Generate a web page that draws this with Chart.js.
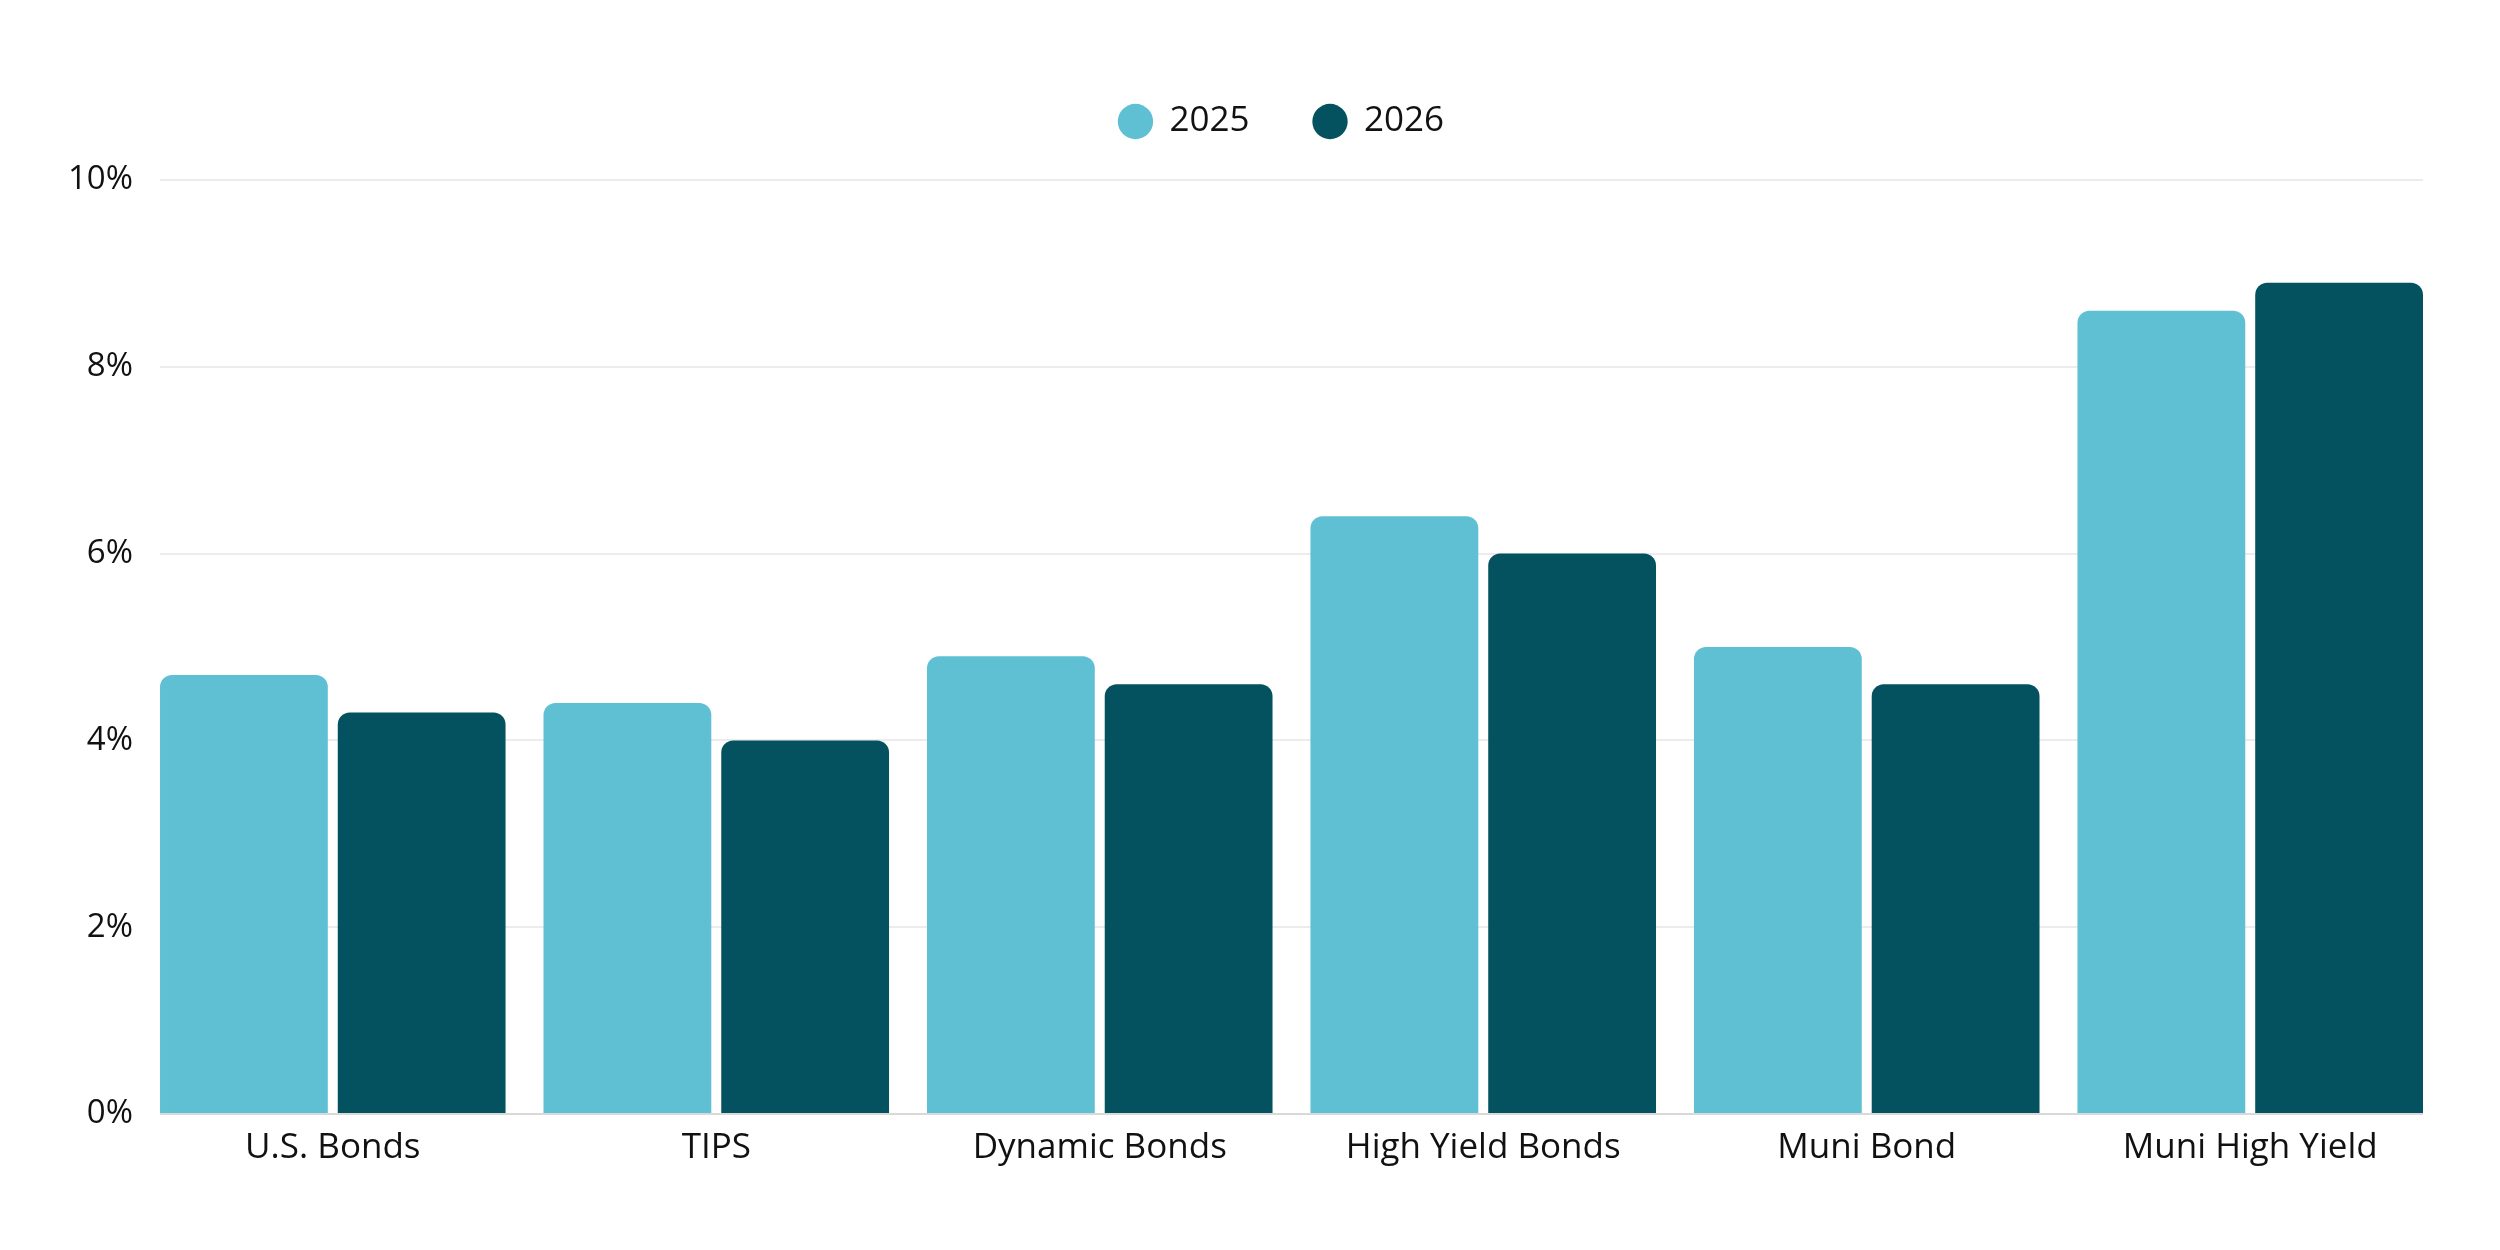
<!DOCTYPE html>
<html>
<head>
<meta charset="utf-8">
<script src="https://cdn.jsdelivr.net/npm/chart.js@4.4.1/dist/chart.umd.min.js"></script>
<style>
  html, body { margin: 0; padding: 0; background: #fff; }
  #wrap { width: 2500px; height: 1250px; }
</style>
</head>
<body>
<div id="wrap"><canvas id="yieldChart" width="2500" height="1250"></canvas></div>
<script>
// ----------------- DATA -----------------
var categories = ["U.S. Bonds", "TIPS", "Dynamic Bonds", "High Yield Bonds", "Muni Bond", "Muni High Yield"];
var seriesNames = ["2025", "2026"];
var values2025 = [4.7, 4.4, 4.9, 6.4, 5.0, 8.6];
var values2026 = [4.3, 4.0, 4.6, 6.0, 4.6, 8.9];
var yTicks = [0, 2, 4, 6, 8, 10];

var LIGHT = '#5fc0d3';
var DARK = '#04525f';
var FONT = "'Open Sans', Lato, sans-serif";
var LEGEND_GAP = 31;    // extra space under the legend
var LEGEND_NUDGE = -10; // legend sits a bit left of the plot centre
var CAT_PCT = 0.927;
var BAR_PCT = 0.944;

Chart.defaults.font.family = FONT;
Chart.defaults.color = '#111';

function makeBars(label, data, color){
    return {
        label: label,
        data: data,
        backgroundColor: color,
        borderRadius: { topLeft: 12, topRight: 12, bottomLeft: 0, bottomRight: 0 },
        borderSkipped: false,
        categoryPercentage: CAT_PCT,
        barPercentage: BAR_PCT
    };
}

// legend spacing + make the outer bars touch the ends of the grid lines
var layoutTweaks = {
    id: 'layoutTweaks',
    beforeInit: function(chart){
        var origFit = chart.legend.fit;
        chart.legend.fit = function(){
            origFit.bind(chart.legend)();
            this.height += LEGEND_GAP;
        };
    },
    afterLayout: function(chart){
        // widen the category scale so the empty margin at each end disappears
        var x = chart.scales.x;
        var n = chart.data.labels.length;
        var k = (1 - CAT_PCT) / 2 + CAT_PCT * (1 - BAR_PCT) / 4;
        var w = (x.right - x.left) / (n - 2 * k);
        var d = k * w;
        x.left -= d;
        x.right += d;
        x.width = x.right - x.left;
        x.configure();

        var lg = chart.legend, ca = chart.chartArea;
        var shift = (ca.left + ca.right) / 2 - (lg.left + lg.right) / 2 + LEGEND_NUDGE;
        lg.left += shift;
        lg.right += shift;
    }
};

var chart = new Chart(document.getElementById('yieldChart'), {
    type: 'bar',
    data: {
        labels: categories,
        datasets: [
            makeBars(seriesNames[0], values2025, LIGHT),
            makeBars(seriesNames[1], values2026, DARK)
        ]
    },
    plugins: [layoutTweaks],
    options: {
        responsive: false,
        devicePixelRatio: 1,
        animation: false,
        layout: { padding: { top: 40, left: 41, right: 77, bottom: 68 } },
        plugins: {
            tooltip: { enabled: false },
            legend: {
                position: 'top',
                labels: {
                    usePointStyle: true,
                    pointStyle: 'circle',
                    boxWidth: 33,
                    boxHeight: 25,
                    padding: 64,
                    color: '#111',
                    font: { size: 35, family: FONT }
                }
            }
        },
        scales: {
            x: {
                grid: { display: false, drawTicks: false },
                border: { display: false },
                ticks: { padding: 13, font: { size: 35 }, color: '#111' }
            },
            y: {
                min: yTicks[0],
                max: yTicks[yTicks.length - 1],
                afterBuildTicks: function(axis){
                    axis.ticks = yTicks.map(function(v){ return { value: v }; });
                },
                grid: {
                    color: function(c){ return c.tick && c.tick.value === 0 ? '#d9d9d9' : '#ececec'; },
                    lineWidth: 2,
                    drawTicks: false
                },
                border: { display: false },
                ticks: {
                    padding: 27,
                    font: { size: 33 },
                    color: '#111',
                    callback: function(v){ return v + '%'; }
                }
            }
        }
    }
});
</script>
</body>
</html>
